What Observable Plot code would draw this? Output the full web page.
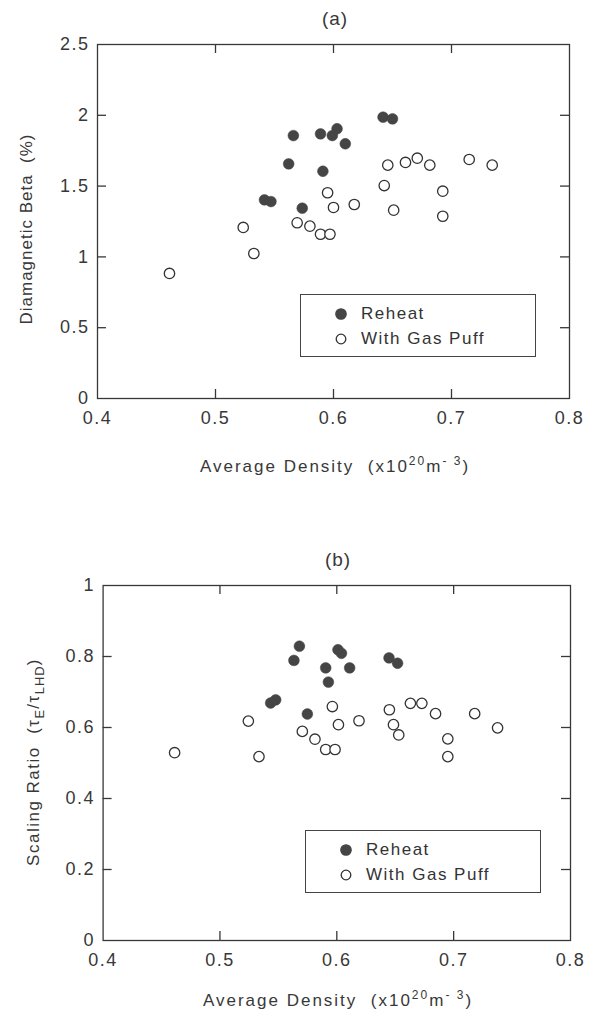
<!DOCTYPE html>
<html><head><meta charset="utf-8">
<script src="https://cdn.jsdelivr.net/npm/d3@7"></script>
<script src="https://cdn.jsdelivr.net/npm/@observablehq/plot@0.6"></script>
<style>
body{margin:0;background:#fff;}
#wrap{position:relative;width:601px;height:1013px;font-family:"Liberation Sans",Arial,sans-serif;color:#333;overflow:hidden;}
#wrap > svg{display:block;}
.legend{position:absolute;border:1.3px solid #444;background:#fff;box-sizing:border-box;font-size:17px;letter-spacing:1.5px;color:#333;}
.row{position:absolute;left:0;height:20px;}
.row svg{position:absolute;}
.row span{position:absolute;white-space:nowrap;top:0;line-height:20px;}
</style></head>
<body><div id="wrap"></div>
<script>
// ---- data ----
const ticksX = [0.4, 0.5, 0.6, 0.7, 0.8];
const ticksBeta = [0, 0.5, 1, 1.5, 2, 2.5];
const ticksRatio = [0, 0.2, 0.4, 0.6, 0.8, 1];
const seriesNames = ["Reheat", "With Gas Puff"];

// panel (a)
const densityReheatA = [0.566,0.589,0.599,0.603,0.610,0.562,0.591,0.5415,0.547,0.5735,0.642,0.650];
const betaReheat     = [1.857,1.869,1.857,1.905,1.799,1.657,1.605,1.403,1.391,1.344,1.987,1.975];
const densityPuffA = [0.595,0.600,0.6176,0.5692,0.580,0.589,0.597,0.5235,0.5325,0.461,0.646,0.661,0.671,0.6816,0.715,0.7345,0.643,0.6926,0.651,0.6926];
const betaPuff     = [1.453,1.349,1.370,1.241,1.217,1.160,1.160,1.208,1.024,0.883,1.648,1.667,1.697,1.648,1.688,1.648,1.504,1.464,1.330,1.287];

// panel (b)
const densityReheatB = [0.568,0.5633,0.5905,0.611,0.5928,0.601,0.604,0.5434,0.5477,0.5748,0.6447,0.652];
const ratioReheat    = [0.829,0.789,0.768,0.768,0.728,0.819,0.809,0.669,0.678,0.638,0.796,0.781];
const densityPuffB = [0.5962,0.6014,0.619,0.5705,0.5813,0.5905,0.5985,0.5243,0.5334,0.4612,0.645,0.663,0.6728,0.6845,0.718,0.7376,0.6485,0.653,0.695,0.695];
const ratioPuff    = [0.659,0.608,0.619,0.589,0.567,0.538,0.538,0.618,0.518,0.529,0.650,0.668,0.668,0.639,0.639,0.599,0.608,0.579,0.568,0.518];

const zip = (xs, ys) => xs.map((x, i) => ({x, y: ys[i]}));
const INK = "#383838";
const FONT = "'Liberation Sans', Arial, sans-serif";
const TICK = 9;

function panel(o) {
  const inner = a => a.slice(1, -1);
  const iw = 601 - o.ml - o.mr, ih = o.height - o.mt - o.mb;
  const [x0, x1] = [ticksX[0], ticksX[ticksX.length - 1]];
  const [y0, y1] = o.yDomain;
  const tx = (x1 - x0) * TICK / iw, ty = (y1 - y0) * TICK / ih;
  const tickStyle = {stroke: INK, strokeWidth: 1.3};
  return Plot.plot({
    width: 601, height: o.height,
    marginLeft: o.ml, marginRight: o.mr, marginTop: o.mt, marginBottom: o.mb,
    style: {fontFamily: FONT, fontSize: "18px", color: INK, background: "transparent", letterSpacing: "1.5px", overflow: "visible"},
    x: {domain: [x0, x1], label: null, axis: null},
    y: {domain: o.yDomain, label: null, axis: null},
    marks: [
      // inward ticks on all four sides
      Plot.ruleX(inner(ticksX), {x: d => d, y1: y0, y2: y0 + ty, ...tickStyle}),
      Plot.ruleX(inner(ticksX), {x: d => d, y1: y1, y2: y1 - ty, ...tickStyle}),
      Plot.ruleY(inner(o.yTicks), {y: d => d, x1: x0, x2: x0 + tx, ...tickStyle}),
      Plot.ruleY(inner(o.yTicks), {y: d => d, x1: x1, x2: x1 - tx, ...tickStyle}),
      Plot.axisX(ticksX, {anchor: "bottom", tickSize: 0, tickPadding: 13, tickFormat: d => d.toFixed(1), fill: INK}),
      Plot.axisY(o.yTicks, {anchor: "left", tickSize: 0, tickPadding: 8, tickFormat: d => String(d), fill: INK}),
      Plot.frame({stroke: INK, strokeWidth: 1.3}),
      Plot.dot(o.puff, {x: "x", y: "y", r: 5.2, stroke: "#333", strokeWidth: 1.3, fill: "white"}),
      Plot.dot(o.reheat, {x: "x", y: "y", r: 5.4, fill: "#454545", stroke: "#454545", strokeWidth: 0.5})
    ]
  });
}

const wrap = d3.select("#wrap");

const pa = panel({height: 500, ml: 97, mr: 32, mt: 44, mb: 102, yDomain: [0, 2.5], yTicks: ticksBeta,
  reheat: zip(densityReheatA, betaReheat), puff: zip(densityPuffA, betaPuff)});
const pb = panel({height: 513, ml: 102.6, mr: 31, mt: 85, mb: 73, yDomain: [0, 1], yTicks: ticksRatio,
  reheat: zip(densityReheatB, ratioReheat), puff: zip(densityPuffB, ratioPuff)});
wrap.node().appendChild(pa);
wrap.node().appendChild(pb);

function labels(svg, o) {
  const s = d3.select(svg);
  const g = s.append("g").attr("fill", INK).attr("font-family", FONT)
    .attr("font-size", 17).style("letter-spacing", "2px");
  g.append("text").attr("x", o.cx).attr("y", o.titleY).attr("text-anchor", "middle").attr("font-size", 19).style("letter-spacing", "1px").text(o.title);
  const xl = g.append("text").attr("x", o.cx).attr("y", o.xlabY).attr("text-anchor", "middle").style("white-space", "pre");
  xl.append("tspan").text("Average Density  (x10");
  xl.append("tspan").attr("dy", -7).attr("font-size", 12).text("20");
  xl.append("tspan").attr("dy", 7).text("m");
  xl.append("tspan").attr("dy", -7).attr("font-size", 12).text("- 3");
  xl.append("tspan").attr("dy", 7).text(")");
  const yl = g.append("text").attr("transform", `translate(${o.ylx},${o.cy}) rotate(-90)`).attr("text-anchor", "middle")
    .style("white-space", "pre").style("letter-spacing", o.yls);
  o.ylab(yl);
}

labels(pa, {cx: 335, cy: 229, titleY: 25, xlabY: 472, ylx: 32, title: "(a)", yls: "1px",
  ylab: t => t.text("Diamagnetic Beta  (%)")});
labels(pb, {cx: 338, cy: 262, titleY: 66, xlabY: 506, ylx: 39, title: "(b)", yls: "1.5px",
  ylab: t => {
    t.append("tspan").text("Scaling Ratio  (τ");
    t.append("tspan").attr("dy", 5).attr("font-size", 13).style("letter-spacing", "1px").text("E");
    t.append("tspan").attr("dy", -5).text("/τ");
    t.append("tspan").attr("dy", 5).attr("font-size", 13).style("letter-spacing", "1px").text("LHD");
    t.append("tspan").attr("dy", -5).text(")");
  }});

// legends
function legend(left, top) {
  const box = wrap.append("div").attr("class", "legend")
    .style("left", left + "px").style("top", top + "px").style("width", "236px").style("height", "63px");
  const rows = [{name: seriesNames[0], filled: true, y: 9}, {name: seriesNames[1], filled: false, y: 34}];
  rows.forEach(r => {
    const row = box.append("div").attr("class", "row").style("top", r.y + "px").style("width", "100%");
    const sv = row.append("svg").attr("width", 14).attr("height", 14).style("left", "33px").style("top", "3px");
    sv.append("circle").attr("cx", 7).attr("cy", 7).attr("r", r.filled ? 5.2 : 4.8)
      .attr("fill", r.filled ? "#454545" : "white").attr("stroke", r.filled ? "#454545" : "#333").attr("stroke-width", 1.3);
    row.append("span").style("left", "60px").text(r.name);
  });
}
legend(300, 294);
legend(305, 830);
</script></body></html>
